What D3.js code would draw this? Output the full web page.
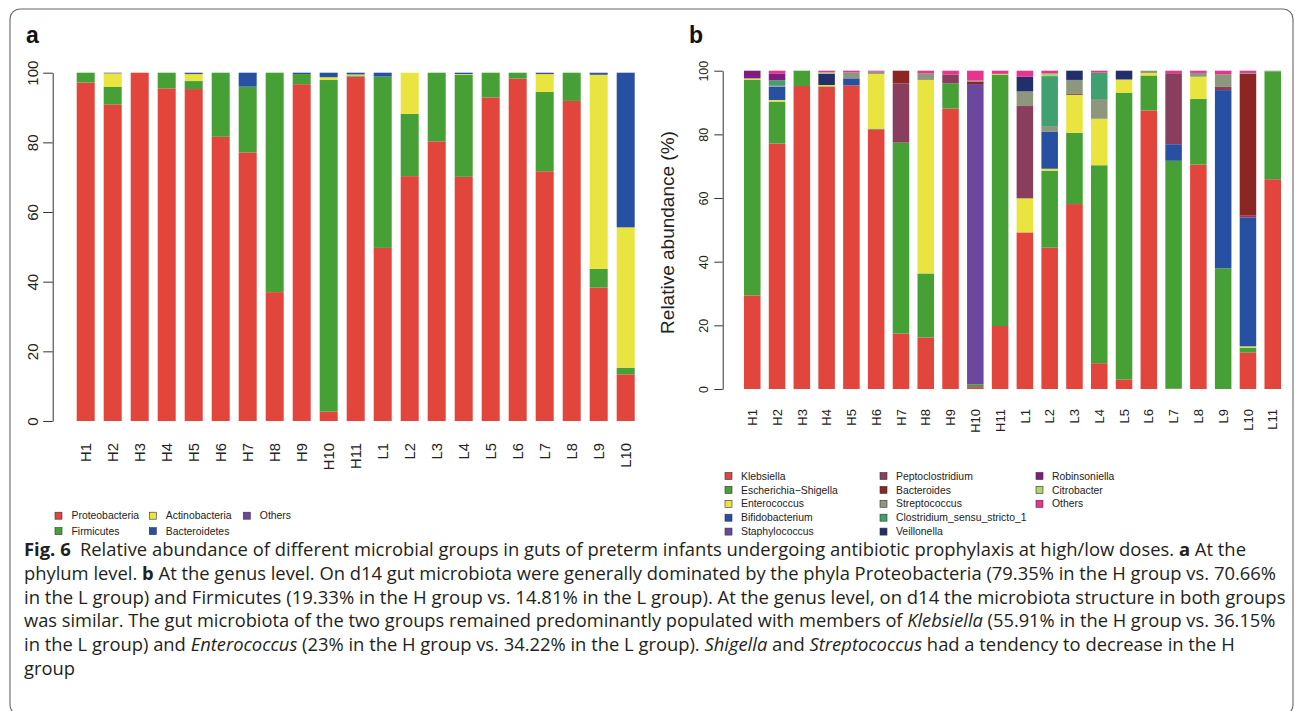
<!DOCTYPE html>
<html>
<head>
<meta charset="utf-8">
<script src="https://cdn.jsdelivr.net/npm/d3@7/dist/d3.min.js"></script>
<style>
  body { margin: 0; background: #fff; }
  svg { display: block; }
</style>
</head>
<body>
<svg id="fig" width="1295" height="711"></svg>
<script>
// ---- panel a : phylum level ----
const samplesA = ["H1","H2","H3","H4","H5","H6","H7","H8","H9","H10","H11",
                  "L1","L2","L3","L4","L5","L6","L7","L8","L9","L10"];
const phyla = ["Proteobacteria","Firmicutes","Actinobacteria","Bacteroidetes","Others"];
const phylaColors = ["#e2453c","#46a035","#e9e43f","#2850a2","#6b479f"];
const proteobacteria = [97.2,90.9,100,95.5,95.3,81.6,77.1,37.0,96.7,2.7,98.9,49.7,70.3,80.3,70.1,92.9,98.3,71.7,91.9,38.3,13.4];
const firmicutes     = [2.8,5.0,0,4.5,2.3,18.4,18.9,63.0,2.9,95.2,0.3,49.2,17.9,19.7,29.3,7.1,1.7,22.8,8.1,5.4,1.9];
const actinobacteria = [0,3.9,0,0,2.0,0,0,0,0,0.8,0.3,0,11.8,0,0.2,0,0,5.1,0,55.7,40.3];
const bacteroidetes  = [0,0,0,0,0.3,0,4.0,0,0.4,1.3,0.5,1.1,0,0,0.4,0,0,0.3,0,0.5,44.4];
const othersA        = [0,0.2,0,0,0.1,0,0,0,0,0,0,0,0,0,0,0,0,0.1,0,0.1,0];
const phylaValues = [proteobacteria, firmicutes, actinobacteria, bacteroidetes, othersA];

// ---- panel b : genus level ----
const samplesB = ["H1","H2","H3","H4","H5","H6","H7","H8","H9","H10","H11",
                  "L1","L2","L3","L4","L5","L6","L7","L8","L9","L10","L11"];
const genera = ["Klebsiella","Escherichia\u2212Shigella","Enterococcus","Bifidobacterium","Staphylococcus",
                "Peptoclostridium","Bacteroides","Streptococcus","Clostridium_sensu_stricto_1","Veillonella",
                "Robinsoniella","Citrobacter","Others"];
const generaColors = ["#e2453c","#46a035","#e9e43f","#2850a2","#6c479f",
                      "#8a3e5e","#8b2622","#8c977d","#40a070","#232f6b",
                      "#7e1c80","#acd56b","#e5358f"];
const klebsiella      = [29.4,77.1,95.2,94.9,95.4,81.6,17.4,16.2,88.1,0.6,19.8,49.2,44.4,58.1,8.1,3.0,87.5,0.1,70.5,0,11.5,65.9];
const escherichia     = [67.8,13.2,4.8,0.2,0,0.2,60.0,20.1,7.9,0.8,79.0,0,24.2,22.4,62.2,90.1,11.0,71.6,20.6,37.9,1.5,33.9];
const enterococcus    = [0.4,0.5,0,0.4,0,17.2,0,60.8,0,0,0.2,10.7,0.6,11.9,14.6,4.0,0.8,0,7.0,0,0.4,0];
const bifidobacterium = [0,4.2,0,0,2.2,0,0,0,0,0,0,0,11.7,0,0,0,0,5.2,0,56.0,40.4,0];
const staphylococcus  = [0,0,0,0,0,0,0,0,0,94.4,0,0,0,0,0,0,0,0,0,0,0,0];
const peptoclostridium= [0,0,0,0,0,0,18.6,0,2.8,0,0,29.0,0,0.3,0,0,0,22.3,0,1.0,0.8,0];
const bacteroides     = [0,0,0,0,0,0,4.0,0,0,0.8,0,0,0,0,0,0,0,0,0,0,44.4,0];
const streptococcus   = [0,0.5,0,0,1.9,0.7,0,2.1,0,0.3,0,4.6,1.7,4.4,6.2,0.2,0.7,0,1.2,4.0,0.3,0.2];
const clostridium     = [0,1.5,0,0,0,0,0,0,0,0,0,0,15.7,0,8.3,0,0,0,0,0,0,0];
const veillonella     = [0,0,0,3.6,0,0,0,0,0,0,0,4.6,0,2.9,0,2.7,0,0,0,0,0,0];
const robinsoniella   = [2.4,2.0,0,0,0,0,0,0,0,0,0,0,0,0,0,0,0,0,0,0,0,0];
const citrobacter     = [0,0,0,0.4,0,0,0,0,0,0,0,0,0.8,0,0,0,0,0,0,0,0,0];
const othersB         = [0,1.0,0,0.5,0.5,0.3,0,0.8,1.2,3.1,1.0,1.9,0.9,0,0.6,0,0,0.8,0.7,1.1,0.7,0];
const generaValues = [klebsiella, escherichia, enterococcus, bifidobacterium, staphylococcus,
                      peptoclostridium, bacteroides, streptococcus, clostridium, veillonella,
                      robinsoniella, citrobacter, othersB];

const yTicks = [0, 20, 40, 60, 80, 100];

const svg = d3.select("#fig");
const chartFont = "'Liberation Sans', Arial, sans-serif";

// figure frame (rounded box)
svg.append("rect")
  .attr("x", 10).attr("y", 9).attr("width", 1283).attr("height", 706)
  .attr("rx", 10).attr("fill", "none").attr("stroke", "#666").attr("stroke-width", 1.1);

// builds rows {sample, key: value} from the arrays
function buildTable(samples, keys, values) {
  return samples.map((s, i) => {
    const row = { sample: s };
    keys.forEach((k, j) => row[k] = values[j][i]);
    return row;
  });
}

function drawPanel(opt) {
  const g = svg.append("g");
  const table = buildTable(opt.samples, opt.keys, opt.values);
  const stacked = d3.stack().keys(opt.keys)(table);

  const x = d3.scaleBand().domain(opt.samples).range(opt.xRange)
    .paddingInner(1 / 3).paddingOuter(0);
  const y = d3.scaleLinear().domain([0, 100]).range(opt.yRange);
  const color = d3.scaleOrdinal().domain(opt.keys).range(opt.colors);

  // stacked bars
  g.selectAll("g.layer")
    .data(stacked)
    .enter().append("g")
    .attr("class", "layer")
    .attr("fill", d => color(d.key))
    .selectAll("rect")
    .data(d => d)
    .enter().append("rect")
    .attr("x", d => x(d.data.sample))
    .attr("y", d => y(d[1]))
    .attr("width", x.bandwidth())
    .attr("height", d => Math.max(0, y(d[0]) - y(d[1])));

  // y axis, R style
  const ax = g.append("g")
    .attr("transform", `translate(${opt.axisX},0)`)
    .call(d3.axisLeft(y).tickValues(yTicks).tickSize(opt.tickLen).tickSizeOuter(0));
  ax.select(".domain").attr("stroke", "#333");
  ax.selectAll(".tick line").attr("stroke", "#333");
  ax.selectAll(".tick text")
    .attr("x", null).attr("dy", null)
    .attr("text-anchor", "middle")
    .attr("transform", `translate(${-opt.labelOff},0) rotate(-90)`)
    .attr("font-family", chartFont)
    .attr("font-size", opt.tickFs)
    .attr("fill", "#222");

  // sample names, vertical
  g.selectAll(".sample-name")
    .data(opt.samples)
    .enter().append("text")
    .attr("class", "sample-name")
    .attr("transform", d => `translate(${x(d) + x.bandwidth() / 2 + opt.nameFs * 0.36},${opt.nameY}) rotate(-90)`)
    .attr("text-anchor", "end")
    .attr("font-family", chartFont)
    .attr("font-size", opt.nameFs)
    .attr("fill", "#222")
    .text(d => d);

  // panel letter
  g.append("text")
    .attr("x", opt.letterX).attr("y", 43)
    .attr("font-family", chartFont)
    .attr("font-weight", "bold")
    .attr("font-size", 23)
    .attr("fill", "#111")
    .text(opt.letter);

  // legend, column-wise
  const lg = g.append("g");
  opt.keys.forEach((k, i) => {
    const col = Math.floor(i / opt.legRows), row = i % opt.legRows;
    const lx = opt.legX[col], ly = opt.legY + row * opt.legStep;
    lg.append("rect")
      .attr("x", lx).attr("y", ly - 3.5).attr("width", 7).attr("height", 7)
      .attr("fill", color(k)).attr("stroke", "#333").attr("stroke-width", 0.6);
    lg.append("text")
      .attr("x", lx + opt.legTextOff).attr("y", ly + 3.6)
      .attr("font-family", chartFont)
      .attr("font-size", 10.4)
      .attr("fill", "#222")
      .text(k);
  });
  return g;
}

drawPanel({
  letter: "a", letterX: 26,
  samples: samplesA, keys: phyla, values: phylaValues, colors: phylaColors,
  xRange: [76.7, 634.7], yRange: [421, 72.7],
  axisX: 52.7, tickLen: 9.5, labelOff: 14.4, tickFs: 15,
  nameY: 443, nameFs: 14.8,
  legX: [55, 149.3, 243.3], legY: 515.7, legStep: 15.4, legRows: 2, legTextOff: 16.5
});

const gb = drawPanel({
  letter: "b", letterX: 689,
  samples: samplesB, keys: genera, values: generaValues, colors: generaColors,
  xRange: [744, 1281], yRange: [389, 70.7],
  axisX: 722.7, tickLen: 8.4, labelOff: 14.7, tickFs: 12.5,
  nameY: 409, nameFs: 13,
  legX: [725, 880, 1036], legY: 476, legStep: 13.9, legRows: 5, legTextOff: 16
});

gb.append("text")
  .attr("transform", "translate(674,232.5) rotate(-90)")
  .attr("text-anchor", "middle")
  .attr("font-family", chartFont)
  .attr("font-size", 19)
  .attr("fill", "#222")
  .text("Relative abundance (%)");

// ---- caption ----
const captionLines = [
  [["Fig. 6", "b"], ["\u2002Relative abundance of different microbial groups in guts of preterm infants undergoing antibiotic prophylaxis at high/low doses. ", ""], ["a", "b"], [" At the", ""]],
  [["phylum level. ", ""], ["b", "b"], [" At the genus level. On d14 gut microbiota were generally dominated by the phyla Proteobacteria (79.35% in the H group vs. 70.66%", ""]],
  [["in the L group) and Firmicutes (19.33% in the H group vs. 14.81% in the L group). At the genus level, on d14 the microbiota structure in both groups", ""]],
  [["was similar. The gut microbiota of the two groups remained predominantly populated with members of ", ""], ["Klebsiella", "i"], [" (55.91% in the H group vs. 36.15%", ""]],
  [["in the L group) and ", ""], ["Enterococcus", "i"], [" (23% in the H group vs. 34.22% in the L group). ", ""], ["Shigella", "i"], [" and ", ""], ["Streptococcus", "i"], [" had a tendency to decrease in the H", ""]],
  [["group", ""]]
];
const captionEnds = [1246.7, 1276.7, 1286.7, 1276.7, 1235, null];
const capX = 24, capY0 = 556, capStep = 23.8;

let lastScale = 0.86;
captionLines.forEach((parts, i) => {
  const t = svg.append("text")
    .attr("font-family", "'Open Sans', 'Noto Sans', sans-serif")
    .attr("font-size", 17.5)
    .attr("fill", "#231f20")
    .attr("x", 0).attr("y", 0);
  parts.forEach(([s, st]) => {
    t.append("tspan")
      .attr("font-weight", st === "b" ? "bold" : null)
      .attr("font-style", st === "i" ? "italic" : null)
      .text(s);
  });
  const w = t.node().getComputedTextLength();
  const sx = captionEnds[i] ? (captionEnds[i] - capX) / w : lastScale;
  lastScale = sx;
  t.attr("transform", `translate(${capX},${capY0 + i * capStep}) scale(${sx},1)`);
});
</script>
</body>
</html>
